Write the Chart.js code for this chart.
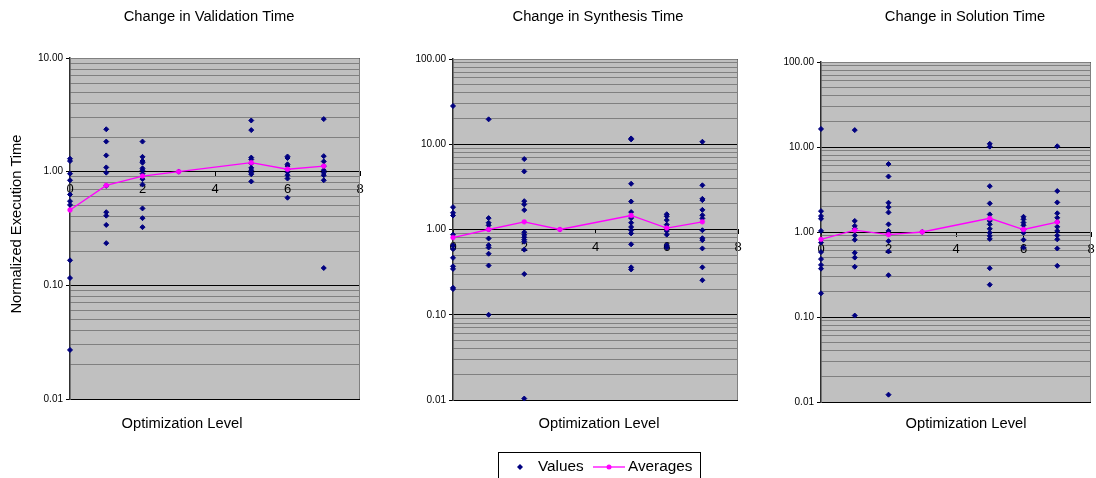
<!DOCTYPE html>
<html><head><meta charset="utf-8">
<script src="https://cdn.jsdelivr.net/npm/chart.js@4/dist/chart.umd.min.js"></script>
<style>
html,body{margin:0;padding:0;background:#fff;}
body{width:1096px;height:478px;position:relative;overflow:hidden;}
canvas{position:absolute;top:0;}
</style></head><body>
<canvas id="c1"></canvas>
<canvas id="c2"></canvas>
<canvas id="c3"></canvas>
<script>
// ---------- data ----------
const levels = [0, 1, 2, 3, 5, 6, 7];
const xTicks = [0, 2, 4, 6, 8];

const validationValues = [
  [1.30, 1.24, 0.96, 0.84, 0.63, 0.55, 0.51, 0.166, 0.116, 0.027],
  [2.36, 1.84, 1.39, 1.09, 0.98, 0.75, 0.44, 0.41, 0.34, 0.235],
  [1.84, 1.35, 1.24, 1.20, 1.07, 1.03, 0.96, 0.86, 0.77, 0.475, 0.39, 0.325],
  [1.00],
  [2.82, 2.32, 1.33, 1.28, 1.18, 1.08, 1.03, 0.98, 0.95, 0.82],
  [1.36, 1.32, 1.16, 1.12, 1.05, 0.99, 0.93, 0.87, 0.59],
  [2.90, 1.37, 1.23, 1.12, 1.03, 0.98, 0.93, 0.84, 0.142]
];
const validationAverages = [0.46, 0.757, 0.915, 1.00, 1.20, 1.05, 1.12];

const synthesisValues = [
  [28.1, 1.83, 1.57, 1.46, 0.87, 0.65, 0.59, 0.465, 0.37, 0.345, 0.207, 0.20],
  [19.6, 1.36, 1.20, 1.12, 1.00, 0.784, 0.655, 0.615, 0.52, 0.378, 0.10],
  [6.7, 4.8, 2.15, 1.97, 1.69, 0.93, 0.866, 0.81, 0.76, 0.72, 0.58, 0.30, 0.0104],
  [1.00],
  [11.7, 11.4, 3.44, 2.13, 1.60, 1.36, 1.20, 1.07, 0.98, 0.90, 0.67, 0.36, 0.34],
  [1.51, 1.43, 1.29, 1.14, 1.05, 0.96, 0.87, 0.655, 0.615],
  [10.7, 3.3, 2.29, 2.21, 1.70, 1.47, 1.35, 0.98, 0.79, 0.75, 0.60, 0.36, 0.254]
];
const synthesisAverages = [0.805, 1.00, 1.23, 1.00, 1.46, 1.04, 1.23];

const solutionValues = [
  [16.3, 1.76, 1.54, 1.43, 1.03, 0.75, 0.58, 0.48, 0.41, 0.37, 0.19],
  [15.8, 1.35, 1.18, 1.09, 0.91, 0.81, 0.57, 0.50, 0.39, 0.104],
  [6.3, 4.5, 2.21, 1.96, 1.70, 1.23, 1.03, 0.95, 0.78, 0.59, 0.31, 0.0122],
  [1.00],
  [10.9, 10.1, 3.46, 2.17, 1.61, 1.35, 1.23, 1.09, 0.98, 0.90, 0.83, 0.375, 0.24],
  [1.51, 1.41, 1.29, 1.20, 1.07, 0.98, 0.81, 0.655],
  [10.2, 3.03, 2.23, 1.66, 1.47, 1.31, 1.15, 1.03, 0.91, 0.82, 0.64, 0.40]
];
const solutionAverages = [0.82, 1.05, 0.93, 1.00, 1.45, 1.07, 1.31];

const decades3 = [0.01, 0.1, 1, 10];
const decades4 = [0.01, 0.1, 1, 10, 100];
const minorMultipliers = [2, 3, 4, 5, 6, 7, 8, 9];

// ---------- helpers ----------
const FONT = '"Liberation Sans", Arial, Helvetica, sans-serif';
const NAVY = '#000080';
const MAGENTA = '#FF00FF';

function buildTickValues(decades) {
  const vals = [];
  decades.forEach((d, i) => {
    vals.push(d);
    if (i < decades.length - 1) minorMultipliers.forEach(m => vals.push(+(d * m).toPrecision(3)));
  });
  return vals;
}
function isDecade(v, decades) { return decades.some(d => Math.abs(v - d) / d < 1e-6); }

function valuePoints(values) {
  const pts = [];
  values.forEach((arr, i) => arr.forEach(v => pts.push({x: levels[i], y: v})));
  return pts;
}
function avgPoints(avgs) { return avgs.map((v, i) => ({x: levels[i], y: v})); }

const decoPlugin = {
  id: 'deco',
  beforeDraw(chart, args, opts) {
    const {ctx, chartArea: a} = chart;
    ctx.save();
    ctx.fillStyle = '#C0C0C0';
    ctx.fillRect(a.left, a.top, a.right - a.left, a.bottom - a.top);
    ctx.restore();
  },
  beforeDatasetsDraw(chart) {
    const {ctx, chartArea: a} = chart;
    ctx.save();
    ctx.strokeStyle = '#808080';
    ctx.lineWidth = 1;
    ctx.beginPath();
    ctx.moveTo(a.left, Math.round(a.top) + 0.5);
    ctx.lineTo(Math.round(a.right) - 0.5, Math.round(a.top) + 0.5);
    ctx.lineTo(Math.round(a.right) - 0.5, a.bottom);
    ctx.stroke();
    ctx.restore();
  },
  afterDraw(chart, args, opts) {
    const ctx = chart.ctx;
    const off = opts.offset;
    ctx.save();
    ctx.fillStyle = '#000';
    ctx.textAlign = 'center';
    ctx.textBaseline = 'middle';
    ctx.font = '14.7px ' + FONT;
    ctx.fillText(opts.title, opts.titleX - off, 17);
    ctx.fillText(opts.xTitle, opts.xTitleX - off, 424);
    if (opts.yTitle) {
      ctx.save();
      ctx.translate(17 - off, 224);
      ctx.rotate(-Math.PI / 2);
      ctx.fillText(opts.yTitle, 0, 0);
      ctx.restore();
    }
    if (opts.legend) {
      const L = opts.legend;
      ctx.strokeStyle = '#000';
      ctx.lineWidth = 1;
      ctx.strokeRect(498.5 - off, 452.5, 202, 40);
      const cy = 467;
      ctx.fillStyle = NAVY;
      ctx.beginPath();
      ctx.moveTo(520 - off - 3, cy); ctx.lineTo(520 - off, cy - 3); ctx.lineTo(520 - off + 3, cy); ctx.lineTo(520 - off, cy + 3);
      ctx.closePath(); ctx.fill();
      ctx.fillStyle = '#000';
      ctx.font = '15.3px ' + FONT;
      ctx.textAlign = 'left';
      ctx.fillText(L[0], 538 - off, cy);
      ctx.strokeStyle = MAGENTA; ctx.lineWidth = 1.3;
      ctx.beginPath(); ctx.moveTo(593 - off, cy); ctx.lineTo(625 - off, cy); ctx.stroke();
      ctx.fillStyle = MAGENTA;
      ctx.beginPath(); ctx.arc(609 - off, cy, 2.5, 0, Math.PI * 2); ctx.fill();
      ctx.fillStyle = '#000';
      ctx.fillText(L[1], 628 - off, cy);
    }
    ctx.restore();
  }
};

function makeChart(id, cv) {
  const canvas = document.getElementById(id);
  canvas.width = cv.width; canvas.height = 478;
  canvas.style.left = cv.left + 'px';
  canvas.style.width = cv.width + 'px'; canvas.style.height = '478px';
  const tickVals = buildTickValues(cv.decades);
  return new Chart(canvas, {
    type: 'scatter',
    data: {
      datasets: [
        {
          label: 'Averages',
          data: avgPoints(cv.averages),
          showLine: true,
          borderColor: MAGENTA,
          borderWidth: 1.3,
          pointStyle: 'circle',
          pointRadius: 2.4,
          pointBackgroundColor: MAGENTA,
          pointBorderColor: MAGENTA,
          pointBorderWidth: 0.5,
          clip: false,
          order: 0
        },
        {
          label: 'Values',
          data: valuePoints(cv.values),
          pointStyle: 'rectRot',
          pointRadius: 2.5,
          pointBackgroundColor: NAVY,
          pointBorderColor: NAVY,
          pointBorderWidth: 1,
          clip: false,
          order: 1
        }
      ]
    },
    options: {
      responsive: false,
      animation: false,
      devicePixelRatio: 1,
      layout: {padding: cv.padding},
      plugins: {
        legend: {display: false},
        tooltip: {enabled: false},
        title: {display: false},
        deco: cv.deco
      },
      scales: {
        x: {
          type: 'linear',
          min: 0, max: 8,
          position: {y: 1},
          afterBuildTicks(scale) { scale.ticks = xTicks.map(v => ({value: v})); },
          afterFit(scale) { scale.paddingLeft = 0; scale.paddingRight = 0; },
          grid: {drawOnChartArea: false, drawTicks: true, tickLength: 4, color: '#000'},
          border: {display: true, color: '#000', width: 1},
          ticks: {color: '#000', font: {family: FONT, size: 13}, padding: 6, maxRotation: 0, autoSkip: false}
        },
        y: {
          type: 'logarithmic',
          position: 'left',
          min: cv.decades[0], max: cv.decades[cv.decades.length - 1],
          afterBuildTicks(scale) { scale.ticks = tickVals.map(v => ({value: v})); },
          afterFit(scale) { scale.width = cv.yWidth; },
          grid: {
            color: c => isDecade(c.tick.value, cv.decades) ? '#000' : '#808080',
            tickColor: c => isDecade(c.tick.value, cv.decades) ? '#000' : 'rgba(0,0,0,0)',
            lineWidth: 1,
            drawTicks: true,
            tickLength: 4
          },
          border: {display: true, color: '#303030', width: 1.5},
          ticks: {
            autoSkip: false,
            color: '#000',
            padding: 3,
            font: {family: FONT, size: 10},
            callback: v => isDecade(v, cv.decades) ? Number(v).toFixed(2) : ''
          }
        }
      }
    },
    plugins: [decoPlugin]
  });
}

makeChart('c1', {
  left: 0, width: 380, yWidth: 70,
  padding: {top: 58, bottom: 79, left: 0, right: 20},
  decades: decades3,
  values: validationValues, averages: validationAverages,
  deco: {offset: 0, title: 'Change in Validation Time', titleX: 209,
         xTitle: 'Optimization Level', xTitleX: 182, yTitle: 'Normalized Execution Time'}
});
makeChart('c2', {
  left: 380, width: 390, yWidth: 73,
  padding: {top: 59, bottom: 78, left: 0, right: 32},
  decades: decades4,
  values: synthesisValues, averages: synthesisAverages,
  deco: {offset: 380, title: 'Change in Synthesis Time', titleX: 598,
         xTitle: 'Optimization Level', xTitleX: 599, legend: ['Values', 'Averages']}
});
makeChart('c3', {
  left: 770, width: 326, yWidth: 51,
  padding: {top: 62, bottom: 76, left: 0, right: 4},
  decades: decades4,
  values: solutionValues, averages: solutionAverages,
  deco: {offset: 770, title: 'Change in Solution Time', titleX: 965,
         xTitle: 'Optimization Level', xTitleX: 966}
});
</script>
</body></html>
